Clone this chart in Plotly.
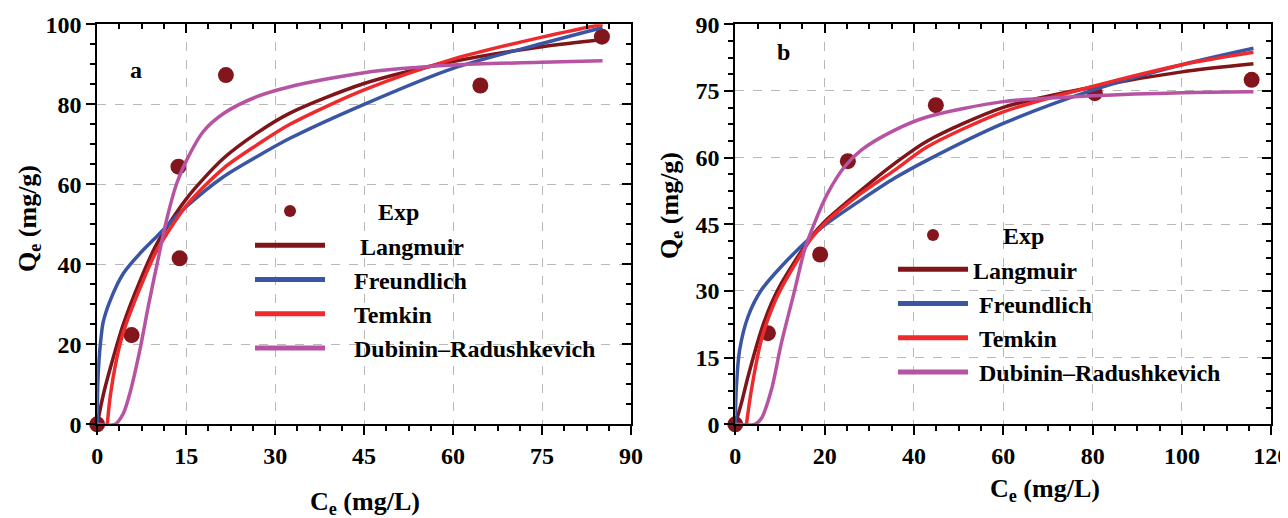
import plotly.graph_objects as go

# ---------------- Data: panel a ----------------
a_exp_x = [0, 5.8, 13.7, 13.9, 21.7, 64.6, 85.1]
a_exp_y = [0, 22.3, 64.4, 41.5, 87.3, 84.7, 96.9]

a_lang_x = [0, 1.0, 2.2, 4.4, 7.2, 10, 15.1, 21.3, 26.9, 32.5, 45, 60, 75, 85.2]
a_lang_y = [0, 7.2, 14.0, 25.0, 35.8, 45.0, 56.5, 66.5, 72.8, 77.8, 85.2, 90.7, 94.4, 96.2]

a_freu_x = [0, 0.1, 0.3, 0.6, 1.0, 2.2, 4.4, 7.2, 10, 15.1, 21.3, 26.9, 32.5, 45, 60, 75, 85.2]
a_freu_y = [0, 10, 16, 21, 25.5, 31, 37.7, 42.7, 46.9, 54.5, 61.9, 66.9, 71.5, 80, 89, 95.2, 99.2]

a_temk_x = [1.7, 2.2, 3.3, 4.4, 7.2, 10, 15.1, 21.3, 26.9, 32.5, 45, 60, 75, 85.2]
a_temk_y = [0, 7, 16.5, 23, 34, 43.3, 54.8, 64, 69.8, 75, 83.6, 91.3, 96.8, 100]

a_dr_x = [0, 3.0, 4.4, 5.5, 7.2, 8.6, 10, 11.7, 13.4, 15.1, 17.9, 21.3, 26.9, 32.5, 45, 60, 75, 85.2]
a_dr_y = [0, 0, 2.7, 7.7, 18.6, 29.4, 39.4, 51.1, 60.2, 66.1, 73.2, 77.7, 81.9, 84.4, 87.9, 89.8, 90.5, 90.9]

# ---------------- Data: panel b ----------------
b_exp_x = [0, 7.3, 19.0, 25.2, 44.9, 80.5, 115.6]
b_exp_y = [0, 20.5, 38.2, 59.2, 71.8, 74.5, 77.5]

b_lang_x = [0, 1.35, 2.84, 5.83, 8.07, 10.3, 17, 20, 28.2, 35.7, 43.1, 60, 80, 100, 116]
b_lang_y = [0, 4.7, 10.7, 21.2, 27.2, 31.7, 42.2, 45.6, 52.7, 58.7, 63.8, 71.3, 75.9, 79.3, 81.1]

b_freu_x = [0, 0.2, 0.97, 2.84, 5.83, 10.3, 17, 20, 28.2, 35.7, 43.1, 60, 80, 100, 116]
b_freu_y = [0, 7.7, 16.7, 24.2, 30.2, 35.5, 42.2, 44.8, 50.5, 55.4, 59.5, 67.7, 75.2, 80.9, 84.6]

b_temk_x = [2.5, 3.6, 5.83, 8.07, 10.3, 17, 20, 28.2, 35.7, 43.1, 60, 80, 100, 116]
b_temk_y = [0, 7.7, 19.0, 25.7, 30.6, 41.8, 45.2, 52.0, 57.2, 62.5, 70.3, 76, 80.9, 83.7]

b_dr_x = [0, 4.3, 5.83, 8.07, 10.3, 13.3, 15.5, 17.7, 20.7, 24.5, 28.2, 35.7, 43.1, 60, 80, 100, 116]
b_dr_y = [0, 0, 1.3, 7.7, 18.2, 30.2, 39.2, 45.2, 52, 58, 61.7, 66.2, 69.2, 72.6, 73.9, 74.6, 74.8]

names = ["Exp", "Langmuir", "Freundlich", "Temkin", "Dubinin\u2013Radushkevich"]
NB = "\u00a0"
# label indentation (non-breaking spaces) per legend entry
a_pads = [8, 5, 4, 4, 4]
b_pads = [5, 0, 1, 1, 1]

c_exp = "#83161c"
c_lang = "#7f1519"
c_freu = "#3a55a4"
c_temk = "#ee2a2c"
c_dr = "#b654a3"

FONT = "Liberation Serif"
fig = go.Figure()

def add_panel(xa, ya, leg, ex, ey, curves, pads):
    fig.add_trace(go.Scatter(x=ex, y=ey, mode="markers", name=NB * pads[0] + names[0],
                             marker=dict(color=c_exp, size=16), cliponaxis=False,
                             xaxis=xa, yaxis=ya, legend=leg))
    for (cx, cy), nm, col, p in zip(curves, names[1:], [c_lang, c_freu, c_temk, c_dr], pads[1:]):
        fig.add_trace(go.Scatter(x=cx, y=cy, mode="lines", name=NB * p + nm,
                                 line=dict(color=col, width=3.5, shape="spline", smoothing=0.8),
                                 xaxis=xa, yaxis=ya, legend=leg))

add_panel("x", "y", "legend", a_exp_x, a_exp_y,
          [(a_lang_x, a_lang_y), (a_freu_x, a_freu_y), (a_temk_x, a_temk_y), (a_dr_x, a_dr_y)], a_pads)
add_panel("x2", "y2", "legend2", b_exp_x, b_exp_y,
          [(b_lang_x, b_lang_y), (b_freu_x, b_freu_y), (b_temk_x, b_temk_y), (b_dr_x, b_dr_y)], b_pads)

# dummy traces for mirrored inside-tick axes (top / right)
for xa, ya in [("x3", "y3"), ("x4", "y4")]:
    fig.add_trace(go.Scatter(x=[None], y=[None], xaxis=xa, yaxis=ya, showlegend=False, hoverinfo="skip"))

# page has an 8px body margin; figure is sized so it fills the 1288x518 window
OFF = 8
W, H = 1288 - OFF, 518 - OFF

def PX(x):
    return (x - OFF) / W

def PY(y):
    return (H - (y - OFF)) / H

ybot, ytop = PY(424.3), PY(24.3)
dA = [PX(97.2), PX(631.0)]
dB = [PX(735.3), PX(1271.3)]

tickfont = dict(family=FONT, size=24, color="black", weight="bold")

def main_axis(domain, rng, dtick, mdt, anchor):
    return dict(domain=domain, range=rng, dtick=dtick, tick0=0, anchor=anchor,
                showline=True, linecolor="black", linewidth=2, mirror=True,
                ticks="outside", ticklen=9, tickwidth=2, tickcolor="black",
                minor=dict(dtick=mdt, tick0=0, ticks="outside", ticklen=5, tickwidth=1.5,
                           tickcolor="black", showgrid=False),
                showgrid=True, gridcolor="#b8b8b8", gridwidth=1, griddash="dash",
                zeroline=False, tickfont=tickfont, automargin=False,
                ticklabeloverflow="allow")

def mirror_axis(rng, dtick, mdt, overlay, side, anchor):
    return dict(range=rng, dtick=dtick, tick0=0, overlaying=overlay, side=side, anchor=anchor,
                showline=False, ticks="inside", ticklen=9, tickwidth=2, tickcolor="black",
                minor=dict(dtick=mdt, tick0=0, ticks="inside", ticklen=5, tickwidth=1.5,
                           tickcolor="black", showgrid=False),
                showgrid=False, zeroline=False, showticklabels=False, automargin=False)

legfont = dict(family=FONT, size=24, color="black", weight="bold")
fig.update_layout(
    width=W, height=H, margin=dict(l=0, r=0, t=0, b=0),
    plot_bgcolor="white", paper_bgcolor="white",
    font=dict(family=FONT, color="black"),
    xaxis=main_axis(dA, [0, 90], 15, 3.75, "y"),
    yaxis=main_axis([ybot, ytop], [0, 100], 20, 5, "x"),
    xaxis2=main_axis(dB, [0, 120], 20, 5, "y2"),
    yaxis2=main_axis([ybot, ytop], [0, 90], 15, 3.75, "x2"),
    xaxis3=mirror_axis([0, 90], 15, 3.75, "x", "top", "y"),
    yaxis3=mirror_axis([0, 100], 20, 5, "y", "right", "x"),
    xaxis4=mirror_axis([0, 120], 20, 5, "x2", "top", "y2"),
    yaxis4=mirror_axis([0, 90], 15, 3.75, "y2", "right", "x2"),
    legend=dict(x=PX(250), y=PY(189), xanchor="left", yanchor="top",
                bgcolor="rgba(0,0,0,0)", itemwidth=70, itemsizing="constant",
                font=legfont, tracegroupgap=0),
    legend2=dict(x=PX(893), y=PY(213), xanchor="left", yanchor="top",
                 bgcolor="rgba(0,0,0,0)", itemwidth=70, itemsizing="constant",
                 font=legfont, tracegroupgap=0),
    showlegend=True,
)

afont = dict(family=FONT, size=26, color="black", weight="bold")
fig.add_annotation(text="C<sub>e</sub> (mg/L)", xref="paper", yref="paper", x=PX(365), y=PY(503),
                   showarrow=False, font=afont, xanchor="center", yanchor="middle")
fig.add_annotation(text="C<sub>e</sub> (mg/L)", xref="paper", yref="paper", x=PX(1045), y=PY(490),
                   showarrow=False, font=afont, xanchor="center", yanchor="middle")
fig.add_annotation(text="Q<sub>e</sub> (mg/g)", xref="paper", yref="paper", x=PX(29), y=PY(219),
                   showarrow=False, font=afont, textangle=-90, xanchor="center", yanchor="middle")
fig.add_annotation(text="Q<sub>e</sub> (mg/g)", xref="paper", yref="paper", x=PX(671), y=PY(206),
                   showarrow=False, font=afont, textangle=-90, xanchor="center", yanchor="middle")
lfont = dict(family=FONT, size=24, color="black", weight="bold")
fig.add_annotation(text="a", xref="paper", yref="paper", x=PX(136), y=PY(70),
                   showarrow=False, font=lfont, xanchor="center", yanchor="middle")
fig.add_annotation(text="b", xref="paper", yref="paper", x=PX(783), y=PY(52),
                   showarrow=False, font=lfont, xanchor="center", yanchor="middle")

fig.write_html("out.html")
